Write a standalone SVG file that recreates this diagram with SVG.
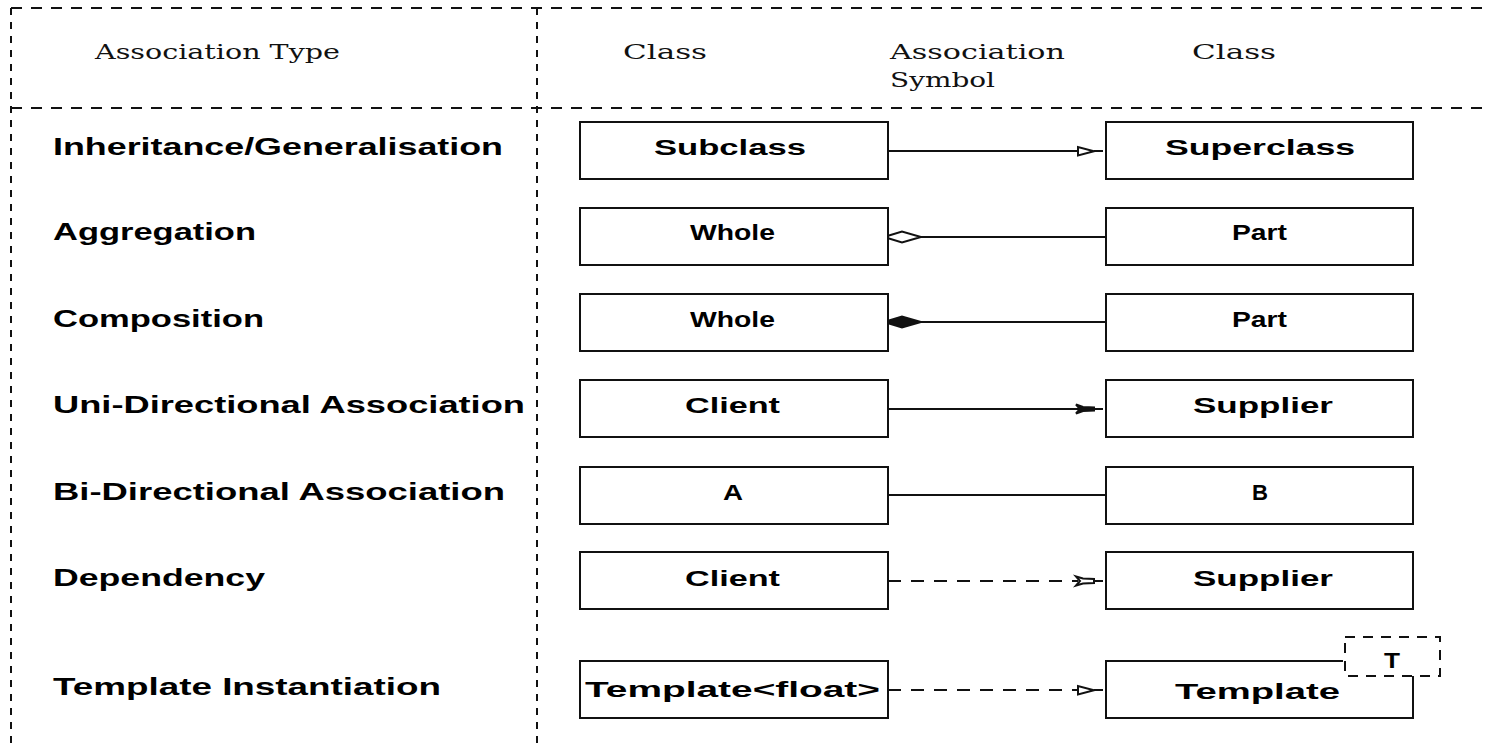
<svg xmlns="http://www.w3.org/2000/svg" width="1490" height="750" viewBox="0 0 1490 750">
  <style>
    .frame-h { stroke: #111; stroke-width: 2; stroke-dasharray: 11 9; fill: none; }
    .frame-v { stroke: #111; stroke-width: 2; stroke-dasharray: 7 7; fill: none; }
    .head { font-family: "DejaVu Serif", "Liberation Serif", serif; font-size: 21px; fill: #111; }
    .label { font-family: "Liberation Sans", Arial, sans-serif; font-size: 23px; font-weight: bold; fill: #000; }
    .cls rect { fill: #fff; stroke: #111; stroke-width: 2; }
    .cls text { font-family: "Liberation Sans", Arial, sans-serif; font-size: 22px; font-weight: bold; fill: #000; }
    .line { stroke: #111; stroke-width: 2; fill: none; }
    .dash { stroke: #111; stroke-width: 2; fill: none; stroke-dasharray: 13 10; }
    .hollow { stroke: #111; stroke-width: 2; fill: #fff; }
    .solid { stroke: #111; stroke-width: 2; fill: #111; }
  </style>

  <!-- table frame -->
  <g id="frame">
    <line class="frame-h" x1="11" y1="8" x2="1490" y2="8"/>
    <line class="frame-h" x1="11" y1="108" x2="1490" y2="108"/>
    <line class="frame-v" x1="11" y1="8" x2="11" y2="750"/>
    <line class="frame-v" x1="537" y1="8" x2="537" y2="750"/>
  </g>

  <!-- column headings -->
  <g id="headings">
    <text class="head" x="95" y="59" textLength="245" lengthAdjust="spacingAndGlyphs">Association Type</text>
    <text class="head" x="623" y="59" textLength="84" lengthAdjust="spacingAndGlyphs">Class</text>
    <text class="head" x="890" y="59" textLength="175" lengthAdjust="spacingAndGlyphs">Association</text>
    <text class="head" x="890" y="87" textLength="105" lengthAdjust="spacingAndGlyphs">Symbol</text>
    <text class="head" x="1192" y="59" textLength="84" lengthAdjust="spacingAndGlyphs">Class</text>
  </g>

  <!-- association type names -->
  <g id="types">
    <text class="label" x="53" y="155" textLength="450" lengthAdjust="spacingAndGlyphs">Inheritance/Generalisation</text>
    <text class="label" x="53" y="240" textLength="203" lengthAdjust="spacingAndGlyphs">Aggregation</text>
    <text class="label" x="53" y="327" textLength="211" lengthAdjust="spacingAndGlyphs">Composition</text>
    <text class="label" x="53" y="413" textLength="472" lengthAdjust="spacingAndGlyphs">Uni-Directional Association</text>
    <text class="label" x="53" y="500" textLength="452" lengthAdjust="spacingAndGlyphs">Bi-Directional Association</text>
    <text class="label" x="53" y="586" textLength="212" lengthAdjust="spacingAndGlyphs">Dependency</text>
    <text class="label" x="53" y="695" textLength="388" lengthAdjust="spacingAndGlyphs">Template Instantiation</text>
  </g>

  <!-- connectors -->
  <g id="connectors">
    <!-- generalisation -->
    <line class="line" x1="888" y1="151" x2="1078" y2="151"/>
    <path class="hollow" d="M1078,147 L1078,155.5 L1094,151.2 Z"/>
    <line class="line" x1="1094" y1="151" x2="1103" y2="151"/>
    <!-- aggregation -->
    <path class="hollow" d="M884,237 L902,231.5 L921,237 L902,242.5 Z"/>
    <line class="line" x1="921" y1="237" x2="1106" y2="237"/>
    <!-- composition -->
    <path class="solid" d="M884,322 L902,316.5 L921,322 L902,327.5 Z"/>
    <line class="line" x1="921" y1="322" x2="1106" y2="322"/>
    <!-- uni-directional -->
    <line class="line" x1="888" y1="409" x2="1080" y2="409"/>
    <path class="solid" d="M1076,404.5 L1083,407 L1094,407.5 L1094,410.5 L1083,411 L1076,413.5 L1080,409 Z"/>
    <line class="line" x1="1094" y1="409" x2="1103" y2="409"/>
    <!-- bi-directional -->
    <line class="line" x1="888" y1="495" x2="1106" y2="495"/>
    <!-- dependency -->
    <line class="dash" x1="888" y1="581" x2="1078" y2="581"/>
    <path class="hollow" d="M1076,576.5 L1083,578.5 L1094,579 L1094,583 L1083,583.5 L1076,585.5 L1080,581 Z"/>
    <line class="line" x1="1094" y1="581" x2="1103" y2="581"/>
    <!-- template instantiation -->
    <line class="dash" x1="888" y1="690" x2="1078" y2="690"/>
    <path class="hollow" d="M1078,686 L1078,694.5 L1094,690.2 Z"/>
    <line class="line" x1="1094" y1="690" x2="1103" y2="690"/>
  </g>

  <!-- classes -->
  <g id="subclass" class="cls">
    <rect x="580" y="122" width="308" height="57"/>
    <text x="654" y="155" textLength="152" lengthAdjust="spacingAndGlyphs">Subclass</text>
  </g>
  <g id="superclass" class="cls">
    <rect x="1106" y="122" width="307" height="57"/>
    <text x="1165" y="155" textLength="190" lengthAdjust="spacingAndGlyphs">Superclass</text>
  </g>
  <g id="whole-agg" class="cls">
    <rect x="580" y="208" width="308" height="57"/>
    <text x="690" y="240" textLength="85" lengthAdjust="spacingAndGlyphs">Whole</text>
  </g>
  <g id="part-agg" class="cls">
    <rect x="1106" y="208" width="307" height="57"/>
    <text x="1232" y="240" textLength="55" lengthAdjust="spacingAndGlyphs">Part</text>
  </g>
  <g id="whole-comp" class="cls">
    <rect x="580" y="294" width="308" height="57"/>
    <text x="690" y="327" textLength="85" lengthAdjust="spacingAndGlyphs">Whole</text>
  </g>
  <g id="part-comp" class="cls">
    <rect x="1106" y="294" width="307" height="57"/>
    <text x="1232" y="327" textLength="55" lengthAdjust="spacingAndGlyphs">Part</text>
  </g>
  <g id="client-uni" class="cls">
    <rect x="580" y="380" width="308" height="57"/>
    <text x="685" y="413" textLength="95" lengthAdjust="spacingAndGlyphs">Client</text>
  </g>
  <g id="supplier-uni" class="cls">
    <rect x="1106" y="380" width="307" height="57"/>
    <text x="1193" y="413" textLength="140" lengthAdjust="spacingAndGlyphs">Supplier</text>
  </g>
  <g id="class-a" class="cls">
    <rect x="580" y="467" width="308" height="57"/>
    <text x="723" y="500" textLength="20" lengthAdjust="spacingAndGlyphs">A</text>
  </g>
  <g id="class-b" class="cls">
    <rect x="1106" y="467" width="307" height="57"/>
    <text x="1252" y="500" textLength="16" lengthAdjust="spacingAndGlyphs">B</text>
  </g>
  <g id="client-dep" class="cls">
    <rect x="580" y="552" width="308" height="57"/>
    <text x="685" y="586" textLength="95" lengthAdjust="spacingAndGlyphs">Client</text>
  </g>
  <g id="supplier-dep" class="cls">
    <rect x="1106" y="552" width="307" height="57"/>
    <text x="1193" y="586" textLength="140" lengthAdjust="spacingAndGlyphs">Supplier</text>
  </g>
  <g id="template-float" class="cls">
    <rect x="580" y="661" width="308" height="57"/>
    <text x="585" y="697" textLength="295" lengthAdjust="spacingAndGlyphs">Template&lt;float&gt;</text>
  </g>
  <g id="template" class="cls">
    <path class="line" d="M1343,661 L1106,661 L1106,718 L1413,718 L1413,676"/>
    <text x="1175" y="699" textLength="165" lengthAdjust="spacingAndGlyphs">Template</text>
    <rect x="1345" y="637" width="95" height="39" style="stroke-dasharray: 10 8; fill: none;"/>
    <text x="1384" y="668" textLength="16" lengthAdjust="spacingAndGlyphs">T</text>
  </g>
</svg>
